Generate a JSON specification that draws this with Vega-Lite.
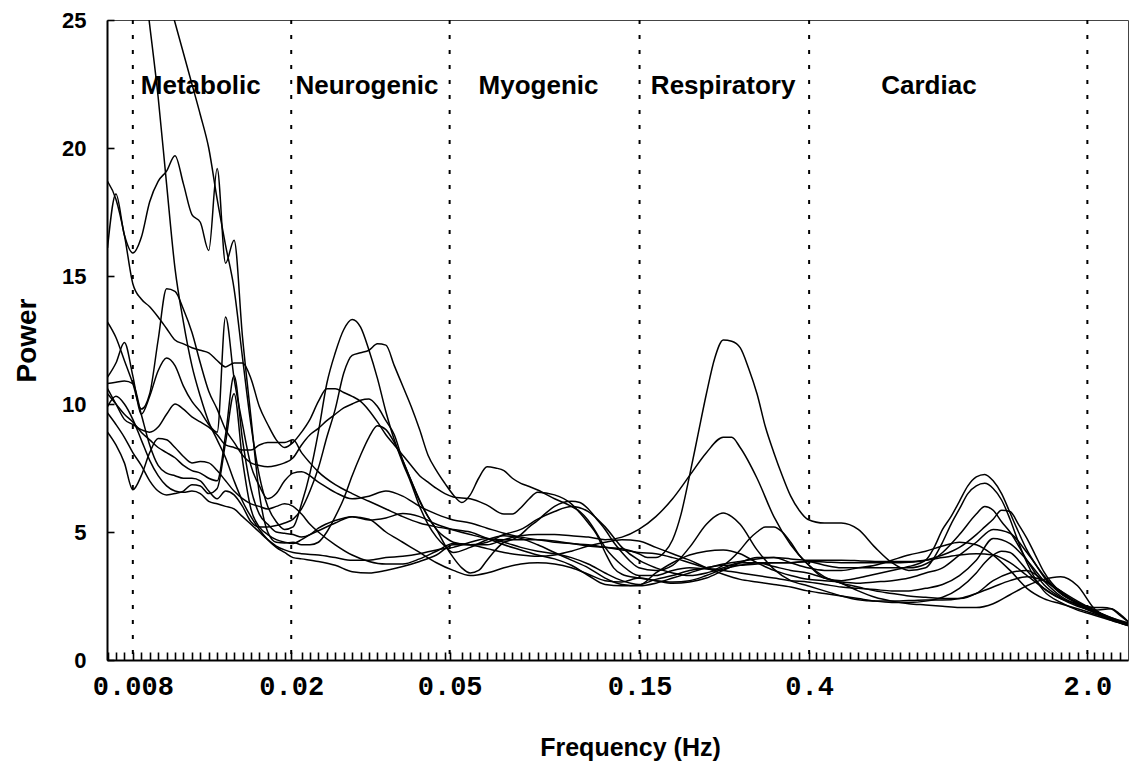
{
"$schema": "https://vega.github.io/schema/vega-lite/v6.json",
"width": 1021, "height": 640,
"autosize": "none",
"padding": {"left": 107, "top": 20, "right": 2, "bottom": 104},
"background": "white",
"config": {"view": {"stroke": "#444", "strokeWidth": 1}, "font": "Liberation Sans"},
"resolve": {"axis": {"x": "independent", "y": "independent"}},
"datasets": {
"curves": [
{"c": 1,
"f": [0.006911,0.007619,0.0084,0.00882,0.009261,0.009724,0.01021,0.01072,0.01126,0.01182,0.01241,0.01303,0.01368,0.01437,0.01509,0.01584,0.01663,0.01746,0.01834,0.01925,0.02022,0.02123,0.0234,0.0258,0.02845,0.03136,0.03458,0.03812,0.04203,0.04633,0.05108,0.05632,0.06209,0.06846,0.07547,0.08321,0.09174,0.1011,0.1115,0.1229,0.1355,0.1494,0.1648,0.1816,0.2003,0.2208,0.2434,0.2684,0.2959,0.3262,0.3596,0.3965,0.4371,0.4819,0.5313,0.5858,0.6458,0.712,0.785,0.8655,0.9542,1.052,1.1598,1.2787,1.4098,1.5543,1.7136,1.8893,2.0829,2.2964,2.5318],
"p": [38,33,27.5,24.8,22,18.6,15.3,13.2,11.5,10.3,9.3,8.6,7.9,7.0,6.2,5.6,5.1,4.7,4.4,4.2,4.0,3.95,3.85,3.7,3.45,3.4,3.5,3.65,3.85,4.1,4.5,4.5,4.6,4.9,5.1,5.5,5.8,6.0,5.8,5.2,4.4,3.9,3.6,3.4,3.3,3.4,3.6,3.8,3.8,3.65,3.5,3.4,3.2,3.0,2.85,2.7,2.6,2.5,2.45,2.4,2.4,2.6,3.1,3.4,3.5,3.1,2.7,2.3,1.95,1.65,1.4]},
{"c": 2,
"f": [0.006911,0.008,0.009261,0.01021,0.01126,0.01182,0.01241,0.01303,0.01368,0.01437,0.01509,0.01584,0.01663,0.01746,0.01834,0.01925,0.02022,0.02123,0.02229,0.0234,0.02457,0.0258,0.02709,0.02845,0.02987,0.03136,0.03293,0.03458,0.0363,0.03812,0.04003,0.04203,0.04413,0.04633,0.04865,0.05108,0.05632,0.06209,0.06846,0.07547,0.08321,0.09174,0.1011,0.1115,0.1229,0.1355,0.1494,0.1648,0.1816,0.2003,0.2208,0.2434,0.2684,0.2959,0.3262,0.3596,0.3965,0.4371,0.4819,0.5313,0.5858,0.6458,0.712,0.785,0.8655,0.9542,1.052,1.1046,1.1598,1.2178,1.2787,1.3427,1.4098,1.4803,1.5543,1.7136,1.8893,2.0829,2.2964,2.5318],
"p": [34.5,31,27.3,24.9,22.5,21.3,20.0,18.0,16.2,14.5,11.8,9.2,7.2,6.0,5.4,5.1,5.2,6.1,7.3,8.9,10.8,12.0,12.9,13.3,13.0,12.1,11.0,9.7,8.6,7.7,6.9,6.0,5.3,4.8,4.45,4.2,4.4,4.7,4.85,4.75,4.5,4.2,3.9,3.6,3.2,2.95,2.9,3.0,3.2,3.4,3.6,3.7,3.7,3.75,3.8,3.8,3.85,3.83,3.8,3.8,3.8,3.8,3.82,3.9,4.1,4.4,4.9,5.2,5.5,5.85,5.8,5.3,4.75,4.1,3.45,2.65,2.25,1.9,1.6,1.4]},
{"c": 3,
"f": [0.006911,0.007256,0.007619,0.008,0.0084,0.00882,0.009261,0.009724,0.01021,0.01072,0.01126,0.01182,0.01241,0.01303,0.01368,0.01437,0.01509,0.01584,0.01663,0.01746,0.01834,0.01925,0.02022,0.02123,0.02229,0.0234,0.02457,0.0258,0.02709,0.02845,0.02987,0.03136,0.03293,0.03458,0.0363,0.03812,0.04003,0.04203,0.04413,0.04633,0.04865,0.05108,0.05364,0.05632,0.06209,0.06846,0.07188,0.07547,0.07925,0.08321,0.09174,0.1011,0.1062,0.1115,0.1171,0.1229,0.1291,0.1355,0.1494,0.1648,0.1816,0.2003,0.2208,0.2434,0.2684,0.2959,0.3262,0.3596,0.3965,0.4371,0.4819,0.5313,0.5858,0.6458,0.712,0.785,0.8655,0.9542,1.052,1.1598,1.2787,1.4098,1.5543,1.7136,1.8893,2.0829,2.2964,2.5318],
"p": [18.7,18.0,16.6,14.7,14.1,13.8,13.4,12.95,12.5,12.35,12.2,12.1,12.0,11.7,11.45,11.6,11.6,11.0,9.9,9.2,8.6,8.3,8.5,8.9,9.4,10.1,10.6,10.6,10.45,10.3,10.1,9.75,9.3,8.8,8.4,8.0,7.6,7.2,6.95,6.7,6.5,6.37,6.33,6.3,6.05,5.7,5.7,5.95,6.3,6.55,6.45,6.1,5.75,5.35,4.9,4.2,3.6,3.35,3.2,3.1,3.0,3.05,3.2,3.5,3.8,4.0,4.0,3.8,3.6,3.5,3.5,3.6,3.7,3.9,4.1,4.25,4.45,4.6,4.5,4.1,3.5,2.8,2.4,2.2,2.0,1.8,1.6,1.4]},
{"c": 4,
"f": [0.006911,0.007256,0.007619,0.008,0.0084,0.00882,0.009261,0.009724,0.01021,0.01072,0.01126,0.01182,0.01241,0.01303,0.01368,0.01437,0.01509,0.01584,0.01663,0.01746,0.01834,0.01925,0.02022,0.02123,0.02229,0.0234,0.02457,0.0258,0.02709,0.02845,0.02987,0.03136,0.03293,0.03458,0.0363,0.03812,0.04003,0.04203,0.04413,0.04633,0.04865,0.05108,0.05632,0.06209,0.06846,0.07547,0.08321,0.09174,0.1011,0.1115,0.1229,0.1355,0.1494,0.1648,0.1816,0.2003,0.2208,0.2434,0.2556,0.2684,0.2959,0.3262,0.3596,0.3965,0.4371,0.4819,0.5313,0.5858,0.6458,0.712,0.785,0.8655,0.9542,1.052,1.1598,1.2787,1.4098,1.5543,1.7136,1.8893,2.0829,2.2964,2.5318],
"p": [16.1,18.2,16.6,15.9,16.5,17.9,18.7,19.1,19.7,18.6,17.4,17.1,16.0,19.2,15.5,16.4,12.6,9.5,6.5,5.0,4.6,4.57,4.6,4.5,4.5,4.6,5.0,5.6,6.3,7.2,8.0,8.7,9.15,9.0,8.5,7.8,7.0,6.25,5.6,5.1,4.8,4.6,4.5,4.5,4.7,4.85,4.9,4.9,4.85,4.8,4.7,4.8,5.1,5.6,6.3,7.2,8.1,8.7,8.7,8.3,7.1,5.6,4.5,3.75,3.25,3.0,2.7,2.45,2.3,2.2,2.15,2.1,2.05,2.05,2.2,2.55,2.9,3.15,3.25,2.9,2.0,1.6,1.35]},
{"c": 5,
"f": [0.006911,0.007256,0.007619,0.008,0.0084,0.00882,0.009261,0.009724,0.01021,0.01072,0.01126,0.01182,0.01241,0.01303,0.01368,0.01437,0.01509,0.01584,0.01663,0.01746,0.01834,0.01925,0.02022,0.02123,0.02229,0.0234,0.02457,0.0258,0.02709,0.02845,0.02987,0.03136,0.03293,0.03458,0.0363,0.03812,0.04003,0.04203,0.04413,0.04633,0.04865,0.05108,0.05364,0.05632,0.05914,0.06209,0.0652,0.06846,0.07188,0.07547,0.07925,0.08321,0.08737,0.09174,0.09633,0.1011,0.1062,0.1115,0.1171,0.1229,0.1291,0.1355,0.1423,0.1494,0.1648,0.1816,0.2003,0.2208,0.2318,0.2434,0.2556,0.2684,0.2959,0.3262,0.3596,0.3965,0.4371,0.4819,0.5313,0.5858,0.6458,0.712,0.785,0.8655,0.9542,1.052,1.1598,1.2787,1.4098,1.5543,1.7136,1.8893,2.0829,2.2964,2.4112,2.5318],
"p": [13.2,12.6,11.7,10.8,9.8,10.4,12.5,14.5,14.4,13.7,12.8,11.6,10.5,9.8,9.0,8.5,8.0,7.7,7.6,7.55,7.6,7.7,7.9,8.4,8.8,9.05,9.35,9.6,9.85,10.0,10.15,10.2,9.9,9.35,8.8,7.8,7.0,6.2,5.6,5.1,4.5,4.0,3.6,3.4,3.5,3.9,4.3,4.6,4.7,4.9,5.2,5.45,5.75,6.0,6.15,6.2,6.15,5.9,5.5,5.1,4.6,4.2,3.85,3.6,3.5,3.7,4.4,5.3,5.6,5.74,5.6,5.3,4.3,3.55,3.1,2.9,2.7,2.5,2.35,2.3,2.3,2.32,2.34,2.34,2.4,2.6,2.85,3.1,3.25,3.1,2.7,2.2,1.95,2.0,1.8,1.5]},
{"c": 6,
"f": [0.006911,0.007256,0.007619,0.008,0.0084,0.00882,0.009261,0.009724,0.01021,0.01072,0.01126,0.01182,0.01241,0.01303,0.01368,0.01437,0.01509,0.01584,0.01663,0.01746,0.01834,0.01925,0.02022,0.02123,0.0234,0.0258,0.02845,0.03136,0.03458,0.03812,0.04203,0.04633,0.05108,0.05632,0.06209,0.06846,0.07547,0.08321,0.09174,0.1011,0.1115,0.1229,0.1355,0.1494,0.1569,0.1648,0.173,0.1816,0.1907,0.2003,0.2103,0.2208,0.2318,0.2434,0.2556,0.2684,0.2818,0.2959,0.3107,0.3262,0.3425,0.3596,0.3776,0.3965,0.4371,0.4819,0.5313,0.5858,0.6458,0.712,0.785,0.8243,0.8655,0.9088,0.9542,1.0019,1.052,1.1046,1.1598,1.2178,1.2787,1.3427,1.4098,1.5543,1.7136,1.8893,2.0829,2.2964,2.5318],
"p": [11.05,11.6,12.4,11.1,9.6,10.3,11.3,11.8,11.5,10.7,10.1,9.7,9.2,8.9,13.4,11.0,9.2,7.6,6.8,6.3,6.5,7.0,7.3,7.35,6.95,6.55,6.3,6.4,6.6,6.4,6.0,5.7,5.47,5.35,5.15,4.95,4.8,4.7,4.6,4.55,4.45,4.4,4.35,4.15,4.0,4.0,4.2,4.7,5.7,7.2,8.8,10.4,11.8,12.5,12.45,12.2,11.4,10.4,9.1,8.1,7.2,6.4,5.85,5.5,5.35,5.35,5.1,4.4,3.8,3.5,3.6,4.0,4.6,5.3,5.9,6.5,6.8,6.9,6.7,6.25,5.5,4.6,3.8,2.7,2.25,1.95,1.75,1.55,1.35]},
{"c": 7,
"f": [0.006911,0.007256,0.007619,0.008,0.0084,0.00882,0.009261,0.009724,0.01021,0.01072,0.01126,0.01182,0.01241,0.01303,0.01368,0.01437,0.01509,0.01584,0.01663,0.01746,0.01834,0.01925,0.02022,0.02123,0.02229,0.0234,0.02457,0.0258,0.02709,0.02845,0.02987,0.03136,0.03293,0.03458,0.0363,0.03812,0.04003,0.04203,0.04413,0.04633,0.04865,0.05108,0.05364,0.05632,0.05914,0.06209,0.0652,0.06846,0.07188,0.07547,0.07925,0.08321,0.09174,0.1011,0.1062,0.1115,0.1171,0.1229,0.1291,0.1355,0.1494,0.1648,0.1816,0.2003,0.2208,0.2434,0.2684,0.2959,0.3262,0.3596,0.3965,0.4371,0.4819,0.5313,0.5858,0.6458,0.712,0.785,0.8655,0.9542,1.052,1.1598,1.2787,1.4098,1.5543,1.7136,1.8893,2.0829,2.2964,2.5318],
"p": [10.8,10.85,10.9,10.8,9.6,8.4,7.6,7.3,7.2,7.1,7.1,7.0,6.6,6.3,6.6,6.45,6.0,5.4,5.2,5.2,5.25,5.35,5.5,5.9,6.6,7.5,8.7,9.8,11.2,11.9,12.0,12.1,12.35,12.3,11.5,10.7,9.9,9.0,8.0,7.4,6.9,6.45,6.15,6.45,7.1,7.55,7.5,7.4,7.1,6.9,6.78,6.64,6.3,6.0,5.8,5.45,4.95,4.4,4.0,3.7,3.3,3.3,3.5,3.6,3.55,3.5,3.4,3.3,3.2,3.1,3.05,2.95,2.85,2.8,2.75,2.7,2.7,2.8,2.95,3.3,3.9,4.75,4.55,3.9,3.1,2.5,2.15,1.85,1.6,1.4]},
{"c": 8,
"f": [0.006911,0.007256,0.007619,0.008,0.0084,0.00882,0.009261,0.009724,0.01021,0.01072,0.01126,0.01182,0.01241,0.01303,0.01368,0.01437,0.01509,0.01584,0.01663,0.01746,0.01834,0.01925,0.02022,0.02123,0.02229,0.0234,0.0258,0.02845,0.03136,0.03458,0.03812,0.04203,0.04633,0.05108,0.05632,0.06209,0.06846,0.07547,0.08321,0.09174,0.1011,0.1115,0.1229,0.1355,0.1494,0.1648,0.1816,0.2003,0.2208,0.2434,0.2684,0.2959,0.3262,0.3596,0.3965,0.4371,0.4819,0.5313,0.5858,0.6458,0.712,0.785,0.8655,0.9542,1.052,1.1598,1.2787,1.4098,1.5543,1.7136,1.8893,2.0829,2.2964,2.5318],
"p": [10.6,10.0,9.4,9.2,9.0,8.9,9.1,9.6,10.0,9.8,9.5,9.3,9.1,8.8,8.4,8.3,8.2,8.2,8.4,8.5,8.5,8.5,8.6,8.1,7.7,7.35,6.85,6.5,6.2,5.9,5.6,5.35,5.2,5.1,5.0,4.75,4.5,4.3,4.1,3.95,3.7,3.3,2.95,2.9,2.92,3.4,3.8,4.1,4.25,4.3,4.15,3.8,3.5,3.3,3.15,3.1,3.05,3.0,3.05,3.1,3.2,3.4,3.6,4.1,4.6,5.1,4.95,4.2,3.3,2.6,2.2,1.9,1.6,1.4]},
{"c": 9,
"f": [0.006911,0.007256,0.007619,0.008,0.0084,0.00882,0.009261,0.009724,0.01021,0.01072,0.01126,0.01182,0.01241,0.01303,0.01368,0.01437,0.01509,0.01584,0.01663,0.01746,0.01834,0.01925,0.02022,0.02123,0.02229,0.0234,0.0258,0.02845,0.03136,0.03458,0.03812,0.04203,0.04633,0.05108,0.05632,0.06209,0.06846,0.07547,0.08321,0.09174,0.1011,0.1115,0.1229,0.1355,0.1494,0.1648,0.1816,0.2003,0.2208,0.2318,0.2434,0.2684,0.2818,0.2959,0.3107,0.3262,0.3425,0.3596,0.3776,0.3965,0.4371,0.4819,0.5313,0.5858,0.6458,0.712,0.785,0.8243,0.8655,0.9088,0.9542,1.0019,1.052,1.1046,1.1598,1.2178,1.2787,1.3427,1.4098,1.4803,1.5543,1.7136,1.8893,2.0829,2.2964,2.5318],
"p": [10.4,10.0,9.6,9.3,8.9,8.6,8.3,8.1,7.9,7.6,7.4,7.3,7.1,7.0,8.8,11.1,8.6,6.7,5.7,5.3,5.0,4.95,4.9,4.8,4.9,5.15,5.45,5.6,5.47,5.55,5.72,5.6,5.3,5.08,4.9,4.75,4.7,4.7,4.7,4.65,4.55,4.5,4.4,4.3,4.2,4.15,4.0,3.8,3.6,3.55,3.7,4.3,4.7,5.0,5.2,5.2,5.0,4.6,4.1,3.75,3.2,3.1,3.2,3.35,3.5,3.65,3.9,4.4,5.1,5.6,6.2,6.8,7.15,7.25,7.0,6.5,5.75,5.0,4.3,3.75,3.25,2.6,2.25,1.95,1.6,1.4]},
{"c": 10,
"f": [0.006911,0.007256,0.007619,0.008,0.0084,0.00882,0.009261,0.009724,0.01021,0.01072,0.01126,0.01182,0.01241,0.01303,0.01368,0.01437,0.01509,0.01584,0.01663,0.01746,0.01834,0.01925,0.02022,0.02123,0.02229,0.0234,0.0258,0.02845,0.03136,0.03458,0.03812,0.04203,0.04633,0.05108,0.05632,0.06209,0.06846,0.07547,0.08321,0.09174,0.1011,0.1115,0.1229,0.1355,0.1494,0.1648,0.1816,0.2003,0.2208,0.2434,0.2684,0.2959,0.3262,0.3596,0.3965,0.4371,0.4819,0.5313,0.5858,0.6458,0.712,0.785,0.8655,0.9542,1.052,1.1046,1.1598,1.2178,1.2787,1.4098,1.5543,1.7136,1.8893,2.0829,2.2964,2.5318],
"p": [9.65,9.2,8.7,8.1,7.6,7.0,6.6,6.45,6.5,6.6,6.85,6.8,6.5,6.7,8.5,10.4,7.8,5.9,5.2,4.9,4.7,4.6,4.55,4.7,4.9,5.05,5.35,5.6,5.5,5.0,4.6,4.2,3.8,3.5,3.3,3.4,3.6,3.75,3.8,3.75,3.6,3.35,3.1,3.05,3.2,3.1,3.05,3.1,3.3,3.55,3.7,3.8,3.8,3.8,3.85,3.7,3.6,3.6,3.6,3.6,3.6,3.75,4.2,4.9,5.7,6.0,5.85,5.4,5.0,3.9,2.95,2.45,2.15,1.85,1.55,1.35]},
{"c": 11,
"f": [0.006911,0.007256,0.007619,0.008,0.0084,0.00882,0.009261,0.009724,0.01021,0.01072,0.01126,0.01182,0.01241,0.01303,0.01368,0.01437,0.01509,0.01584,0.01663,0.01746,0.01834,0.01925,0.02022,0.02123,0.02229,0.0234,0.0258,0.02845,0.03136,0.03458,0.03812,0.04203,0.04633,0.05108,0.05632,0.06209,0.06846,0.07547,0.08321,0.09174,0.1011,0.1115,0.1229,0.1355,0.1494,0.1648,0.1816,0.2003,0.2208,0.2434,0.2684,0.2959,0.3262,0.3596,0.3965,0.4371,0.4819,0.5313,0.5858,0.6458,0.712,0.785,0.8655,0.9542,1.052,1.1046,1.1598,1.2178,1.2787,1.3427,1.4098,1.5543,1.7136,1.8893,2.0829,2.1871,2.2964,2.4112,2.5318],
"p": [8.9,8.4,7.7,6.65,7.2,8.1,8.65,8.6,8.3,7.95,7.7,7.75,7.7,7.4,7.0,6.6,6.3,6.1,6.0,5.9,6.0,6.1,6.0,5.7,5.3,5.0,4.5,4.1,3.85,3.75,3.75,3.95,4.25,4.55,4.5,4.35,4.2,4.1,4.05,4.1,4.25,4.45,4.6,4.7,4.65,4.4,4.15,3.9,3.6,3.35,3.15,3.05,2.95,2.85,2.7,2.6,2.5,2.4,2.3,2.25,2.25,2.3,2.45,2.8,3.4,3.8,4.1,4.25,4.2,3.9,3.5,2.8,2.4,2.2,2.05,2.05,2.0,1.75,1.5]},
{"c": 12,
"f": [0.006911,0.007256,0.007619,0.008,0.0084,0.00882,0.009261,0.009724,0.01021,0.01072,0.01126,0.01182,0.01241,0.01303,0.01368,0.01437,0.01509,0.01584,0.01663,0.01746,0.01834,0.01925,0.02022,0.02123,0.0234,0.0258,0.02845,0.03136,0.03458,0.03812,0.04203,0.04633,0.05108,0.05632,0.06209,0.06846,0.07547,0.08321,0.09174,0.1011,0.1115,0.1229,0.1355,0.1494,0.1648,0.1816,0.2003,0.2208,0.2434,0.2684,0.2959,0.3262,0.3596,0.3965,0.4371,0.4819,0.5313,0.5858,0.6458,0.712,0.785,0.8655,0.9542,1.052,1.1598,1.2787,1.4098,1.5543,1.7136,1.8893,2.0829,2.2964,2.5318],
"p": [9.9,10.3,10.0,9.4,8.6,7.8,7.2,6.8,6.6,6.55,6.6,6.5,6.2,6.1,6.0,5.9,5.6,5.3,5.0,4.7,4.45,4.3,4.2,4.15,4.1,4.0,3.9,3.9,4.0,4.05,4.15,4.3,4.4,4.6,4.75,4.6,4.4,4.25,4.15,4.0,3.75,3.4,3.1,2.95,3.15,3.3,3.5,3.6,3.75,3.85,3.95,4.0,3.95,3.9,3.9,3.9,3.88,3.85,3.85,3.85,3.9,4.0,4.1,4.15,4.1,3.8,3.3,2.8,2.4,2.1,1.9,1.65,1.45]}
],
"bands": [{"f": 0.008}, {"f": 0.02}, {"f": 0.05}, {"f": 0.15}, {"f": 0.4}, {"f": 2.0}],
"labels": [
{"t": "Metabolic", "f": 0.01185, "p": 22.1},
{"t": "Neurogenic", "f": 0.031, "p": 22.1},
{"t": "Myogenic", "f": 0.0836, "p": 22.1},
{"t": "Respiratory", "f": 0.2432, "p": 22.1},
{"t": "Cardiac", "f": 0.8, "p": 22.1}
]
},
"layer": [
{
"data": {"name": "curves"},
"transform": [{"flatten": ["f", "p"]}],
"mark": {"type": "line", "clip": true, "color": "black", "strokeWidth": 1.5, "interpolate": "monotone"},
"encoding": {
"x": {"field": "f", "type": "quantitative",
"scale": {"type": "log", "domain": [0.00689, 2.53], "nice": false, "zero": false},
"axis": {
"orient": "bottom",
"values": [0.008, 0.02, 0.05, 0.15, 0.4, 2],
"labelExpr": "datum.value == 2 ? '2.0' : format(datum.value, '~g')",
"labelOverlap": false, "labelFlush": false, "labelBound": false,
"ticks": false,
"domainColor": "black", "domainWidth": 2, "grid": false,
"labelFont": "Liberation Mono", "labelFontWeight": "bold", "labelFontSize": 27, "labelColor": "black", "labelPadding": 13,
"title": "Frequency (Hz)", "titleFont": "Liberation Sans", "titleFontWeight": "bold", "titleFontSize": 25, "titleColor": "black",
"titleX": 523, "titleY": 95, "titleBaseline": "alphabetic", "titleAlign": "center"
}},
"y": {"field": "p", "type": "quantitative",
"scale": {"domain": [0, 25], "nice": false, "zero": false},
"axis": {
"orient": "left",
"values": [0, 5, 10, 15, 20, 25],
"ticks": false,
"domainColor": "black", "domainWidth": 2, "grid": false,
"labelFont": "Liberation Sans", "labelFontWeight": "bold", "labelFontSize": 22, "labelColor": "black", "labelPadding": 21,
"title": "Power", "titleFont": "Liberation Sans", "titleFontWeight": "bold", "titleFontSize": 28, "titleColor": "black", "titlePadding": 20
}},
"detail": {"field": "c"}
}
},
{
"data": {"name": "bands"},
"mark": {"type": "rule", "strokeDash": [4, 11], "strokeWidth": 2, "color": "black"},
"encoding": {"x": {"field": "f", "type": "quantitative",
"axis": {
"orient": "top", "offset": -640, "zindex": 2,
"values": [0.006911,0.007256,0.007619,0.008,0.0084,0.00882,0.009261,0.009724,0.01021,0.01072,0.01126,0.01182,0.01241,0.01303,0.01368,0.01437,0.01509,0.01584,0.01663,0.01746,0.01834,0.01925,0.02,0.02123,0.02229,0.0234,0.02457,0.0258,0.02709,0.02845,0.02987,0.03136,0.03293,0.03458,0.0363,0.03812,0.04003,0.04203,0.04413,0.04633,0.04865,0.05,0.05364,0.05632,0.05914,0.06209,0.0652,0.06846,0.07188,0.07547,0.07925,0.08321,0.08737,0.09174,0.09633,0.1011,0.1062,0.1115,0.1171,0.1229,0.1291,0.1355,0.1423,0.15,0.1569,0.1648,0.173,0.1816,0.1907,0.2003,0.2103,0.2208,0.2318,0.2434,0.2556,0.2684,0.2818,0.2959,0.3107,0.3262,0.3425,0.3596,0.3776,0.4,0.4163,0.4371,0.459,0.4819,0.506,0.5313,0.5579,0.5858,0.6151,0.6458,0.6781,0.712,0.7476,0.785,0.8243,0.8655,0.9088,0.9542,1.0019,1.052,1.1046,1.1598,1.2178,1.2787,1.3427,1.4098,1.4803,1.5543,1.632,1.7136,1.7993,1.8893,2,2.0829,2.1871,2.2964,2.4112],
"labels": false, "domain": false, "grid": false,
"ticks": true, "tickSize": 8, "tickWidth": 1.6, "tickColor": "#000000", "tickOpacity": 1,
"title": null
}}}
},
{
"data": {"name": "labels"},
"mark": {"type": "text", "font": "Liberation Sans", "fontWeight": "bold", "fontSize": 26, "baseline": "alphabetic", "align": "center", "color": "black"},
"encoding": {
"x": {"field": "f", "type": "quantitative", "axis": null},
"y": {"field": "p", "type": "quantitative",
"axis": {
"orient": "right", "offset": -1021, "zindex": 2,
"values": [0, 5, 10, 15, 20, 25],
"labels": false, "domain": false, "grid": false,
"ticks": true, "tickSize": 7, "tickWidth": 1.6, "tickColor": "#000000", "tickOpacity": 1,
"title": null
}},
"text": {"field": "t"}
}
}
]
}
